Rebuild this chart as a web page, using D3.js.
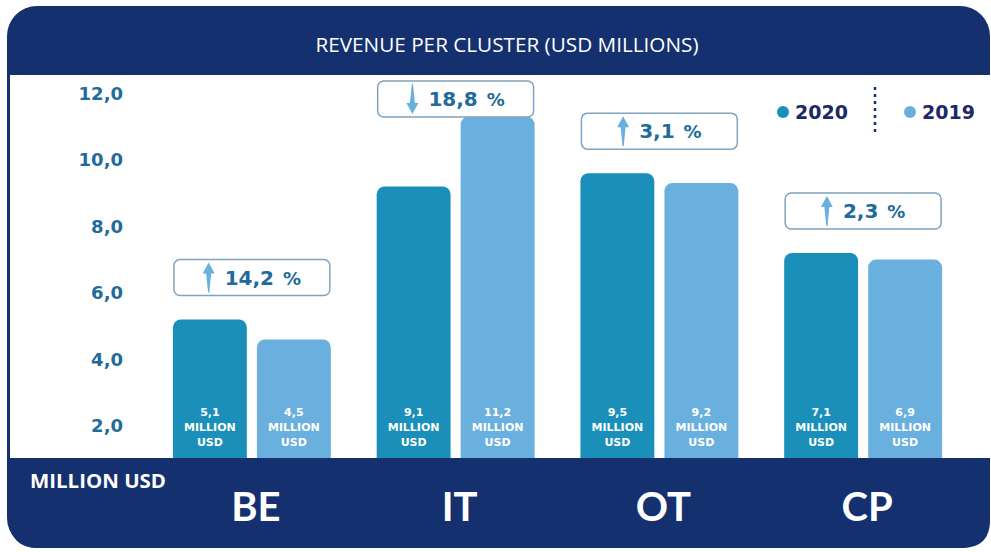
<!DOCTYPE html>
<html>
<head>
<meta charset="utf-8">
<script src="https://cdn.jsdelivr.net/npm/d3@7"></script>
<style>
  html, body { margin: 0; padding: 0; background: #ffffff; }
  svg { display: block; }
</style>
</head>
<body>
<div id="chart"></div>
<script>
// data
const clusters = ["BE", "IT", "OT", "CP"];
const years = ["2020", "2019"];
const rev2020 = [5.1, 9.1, 9.5, 7.1];
const rev2019 = [4.5, 11.2, 9.2, 6.9];
const changePct = ["14,2", "18,8", "3,1", "2,3"];
const changeDir = ["up", "down", "up", "up"];
const yTicks = [2, 4, 6, 8, 10, 12];

const W = 991, H = 552;
const navy = "#15306f";
const c2020 = "#1a8fba";
const c2019 = "#6ab0de";
const tickBlue = "#1f6b9b";
const baseline = 458;
const numFont = "'DejaVu Sans', Verdana, sans-serif";

const fmt = d3.formatLocale({ decimal: ",", thousands: ".", grouping: [3], currency: ["", ""] }).format(".1f");

const svg = d3.select("#chart").append("svg")
  .attr("width", W)
  .attr("height", H);

// frame: navy rounded card with white plot panel
svg.append("rect")
  .attr("x", 7).attr("y", 6)
  .attr("width", 983).attr("height", 542)
  .attr("rx", 30)
  .attr("fill", navy);

svg.append("rect")
  .attr("x", 10).attr("y", 75)
  .attr("width", 981).attr("height", baseline - 75)
  .attr("fill", "#ffffff");

svg.append("text")
  .attr("x", 507).attr("y", 47)
  .attr("text-anchor", "middle")
  .attr("dominant-baseline", "middle")
  .attr("textLength", 383)
  .attr("lengthAdjust", "spacingAndGlyphs")
  .style("font-family", "'Open Sans', sans-serif")
  .style("font-size", "19.5px")
  .attr("fill", "#ffffff")
  .text("REVENUE PER CLUSTER (USD MILLIONS)");

// scales
const x0 = d3.scaleBand()
  .domain(clusters)
  .range([150, 965])
  .paddingInner(0.225)
  .paddingOuter(0.1125);

const x1 = d3.scaleBand()
  .domain(years)
  .range([0, x0.bandwidth()])
  .paddingInner(0.12);

const y = d3.scaleLinear().domain([0, 12]).range([489, 90]);

const color = d3.scaleOrdinal().domain(years).range([c2020, c2019]);

// y axis (labels only)
const yAxis = svg.append("g")
  .attr("transform", "translate(123,0)")
  .call(d3.axisLeft(y).tickValues(yTicks).tickFormat(fmt).tickSize(0).tickPadding(0));
yAxis.select(".domain").remove();
yAxis.selectAll("text")
  .attr("dy", "0.5em")
  .style("font-family", numFont)
  .style("font-size", "18px")
  .style("font-weight", "700")
  .attr("fill", tickBlue);

// bars
const rows = clusters.map((c, i) => ({
  cluster: c,
  values: [{ year: "2020", v: rev2020[i] }, { year: "2019", v: rev2019[i] }],
  pct: changePct[i],
  dir: changeDir[i]
}));

const groups = svg.append("g")
  .selectAll("g")
  .data(rows)
  .join("g")
  .attr("transform", d => `translate(${x0(d.cluster)},0)`);

groups.selectAll("rect")
  .data(d => d.values)
  .join("rect")
  .attr("x", d => x1(d.year))
  .attr("y", d => y(d.v))
  .attr("width", x1.bandwidth())
  .attr("height", d => baseline + 20 - y(d.v))
  .attr("rx", 8)
  .attr("fill", d => color(d.year));

const barLabels = groups.selectAll("text.val")
  .data(d => d.values)
  .join("text")
  .attr("class", "val")
  .attr("text-anchor", "middle")
  .style("font-family", numFont)
  .style("font-size", "11px")
  .style("font-weight", "700")
  .attr("fill", "#ffffff");

[[d => fmt(d.v), -46], [() => "MILLION", -31], [() => "USD", -16]].forEach(([txt, off]) => {
  barLabels.append("tspan")
    .attr("x", d => x1(d.year) + x1.bandwidth() / 2)
    .attr("y", baseline + off)
    .attr("dy", "0.35em")
    .text(txt);
});

// change badges
const badgeH = 36;
groups.each(function (d) {
  const g = d3.select(this);
  const bottom = Math.min(...d.values.map(e => y(e.v))) - 24;
  const by = Math.max(81, bottom - badgeH);
  const bw = x0.bandwidth();

  g.append("rect")
    .attr("x", 1).attr("y", by)
    .attr("width", bw - 2).attr("height", badgeH)
    .attr("rx", 6)
    .attr("fill", "#ffffff")
    .attr("stroke", "#7fa3c0")
    .attr("stroke-width", 1.5);

  const t = g.append("text")
    .attr("y", by + badgeH / 2)
    .attr("dy", "0.36em")
    .style("font-family", numFont)
    .style("font-size", "20px")
    .style("font-weight", "700")
    .attr("fill", tickBlue);
  t.append("tspan").text(d.pct);
  t.append("tspan").attr("dx", 9).style("font-size", "18px").text("%");

  const L = t.node().getComputedTextLength() + 9;
  const total = 12 + 10 + L;
  const sx = bw / 2 - total / 2;
  t.attr("x", sx + 22);

  g.append("path")
    .attr("d", "M0,-15 L6,-4 L2.5,-4 L0.6,15 L-0.6,15 L-2.5,-4 L-6,-4 Z")
    .attr("transform", `translate(${sx + 6},${by + badgeH / 2}) scale(1,${d.dir === "up" ? 1 : -1})`)
    .attr("fill", c2019);
});

// legend
const legend = svg.append("g");
const legendItems = [{ year: "2020", cx: 783 }, { year: "2019", cx: 910 }];
legendItems.forEach(it => {
  legend.append("circle")
    .attr("cx", it.cx).attr("cy", 112).attr("r", 6)
    .attr("fill", color(it.year));
  legend.append("text")
    .attr("x", it.cx + 12).attr("y", 112)
    .attr("dy", "0.37em")
    .style("font-family", numFont)
    .style("font-size", "19px")
    .style("font-weight", "700")
    .attr("fill", "#1b2a66")
    .text(it.year);
});
legend.append("line")
  .attr("x1", 875).attr("x2", 875)
  .attr("y1", 87).attr("y2", 136)
  .attr("stroke", navy)
  .attr("stroke-width", 2.5)
  .attr("stroke-dasharray", "3,4");

// bottom band with categories
svg.append("path")
  .attr("d", `M10,${baseline} H990 V${548 - 28} Q990,548 962,548 H38 Q10,548 10,${548 - 28} Z`)
  .attr("fill", navy);

svg.append("text")
  .attr("x", 30).attr("y", 481)
  .attr("dy", "0.35em")
  .attr("textLength", 136)
  .attr("lengthAdjust", "spacingAndGlyphs")
  .style("font-family", "'Open Sans', sans-serif")
  .style("font-size", "19px")
  .style("font-weight", "700")
  .attr("fill", "#ffffff")
  .text("MILLION USD");

const xAxis = svg.append("g")
  .attr("transform", `translate(0,${baseline})`)
  .call(d3.axisBottom(x0).tickSize(0).tickPadding(0));
xAxis.select(".domain").remove();
xAxis.selectAll("text")
  .attr("x", 4)
  .attr("y", 49)
  .attr("dy", "0.35em")
  .style("font-family", "Lato, sans-serif")
  .style("font-size", "40px")
  .style("font-weight", "700")
  .attr("fill", "#ffffff");
</script>
</body>
</html>
